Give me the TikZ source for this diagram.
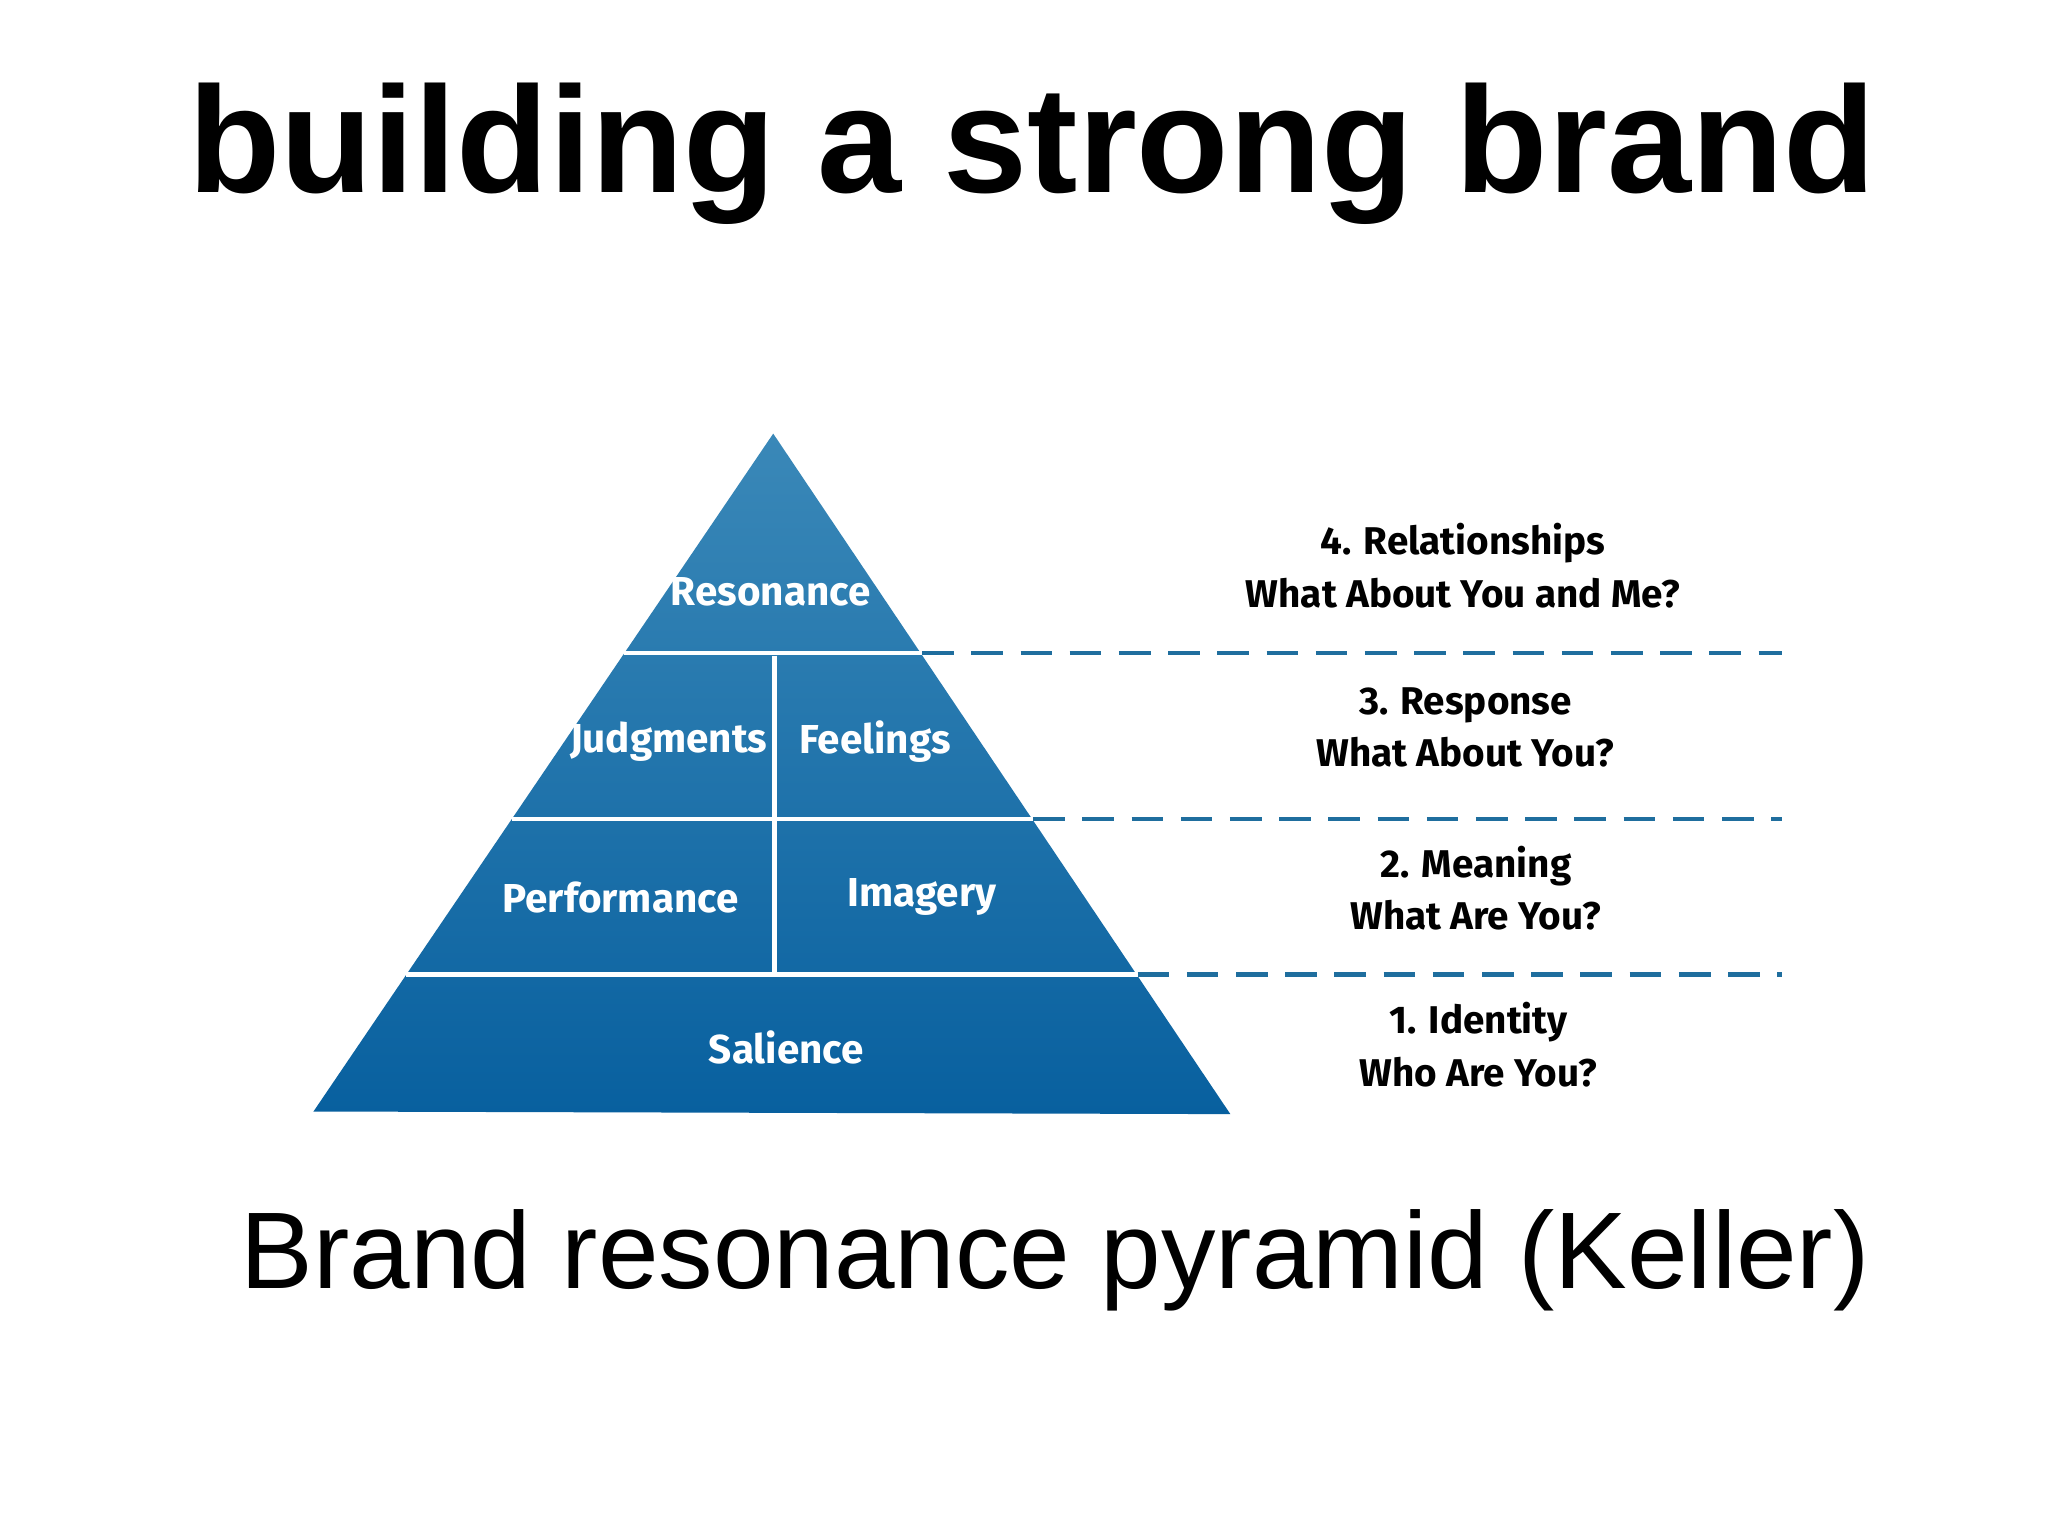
\documentclass[tikz,border=0pt]{standalone}
\usepackage{fontspec}
\setmainfont{Liberation Sans}
\newfontfamily\lab{Fira Sans}
\definecolor{ptop}{HTML}{3A88B8}
\definecolor{pbot}{HTML}{08609F}
\definecolor{dashblue}{HTML}{1F6E9E}
\begin{document}
\begin{tikzpicture}[x=0.01306cm,y=-0.01306cm,
  sep/.style={white,line width=1.3pt},
  dl/.style={dashblue,line width=1.3pt,dash pattern=on 9pt off 5pt},
  pl/.style={white,font=\lab\bfseries\fontsize{11.5}{13}\selectfont},
  rl/.style={black,align=center,font=\lab\bfseries\fontsize{11}{15}\selectfont}]
\useasboundingbox (0,0) rectangle (1568,1176);
\fill[white] (0,0) rectangle (1568,1176);
\node (title) at (790,118) {\bfseries\fontsize{43}{50}\selectfont building a strong brand};
\shade[top color=ptop,bottom color=pbot] (592,332) -- (942,853) -- (240,851) -- cycle;
\coordinate (l1) at (478,500); \coordinate (r1) at (706,500);
\coordinate (l2) at (392,627); \coordinate (r2) at (791,627);
\coordinate (l3) at (311,746); \coordinate (r3) at (871,746);
\coordinate (v1) at (593,502); \coordinate (v2) at (593,746);
\draw[sep] (l1) -- (r1); \draw[sep] (l2) -- (r2); \draw[sep] (l3) -- (r3);
\draw[sep] (v1) -- (v2);
\coordinate (e1) at (1364,500); \coordinate (e2) at (1364,627); \coordinate (e3) at (1364,746);
\draw[dl] (r1) -- (e1); \draw[dl] (r2) -- (e2); \draw[dl] (r3) -- (e3);
\node[pl] (res) at (590,453) {Resonance};
\node[pl] (jud) at (512,568) {Judgments};
\node[pl] (fee) at (670,568) {Feelings};
\node[pl] (per) at (475,687) {Performance};
\node[pl] (ima) at (706,687) {Imagery};
\node[pl] (sal) at (602,802) {Salience};
\node[rl] (t4) at (1120,433) {4. Relationships\\What About You and Me?};
\node[rl] (t3) at (1122,557) {3. Response\\What About You?};
\node[rl] (t2) at (1130,680) {2. Meaning\\What Are You?};
\node[rl] (t1) at (1132,800) {1. Identity\\Who Are You?};
\node (sub) at (808,965) {\fontsize{31}{36}\selectfont Brand resonance pyramid (Keller)};
\end{tikzpicture}
\end{document}
